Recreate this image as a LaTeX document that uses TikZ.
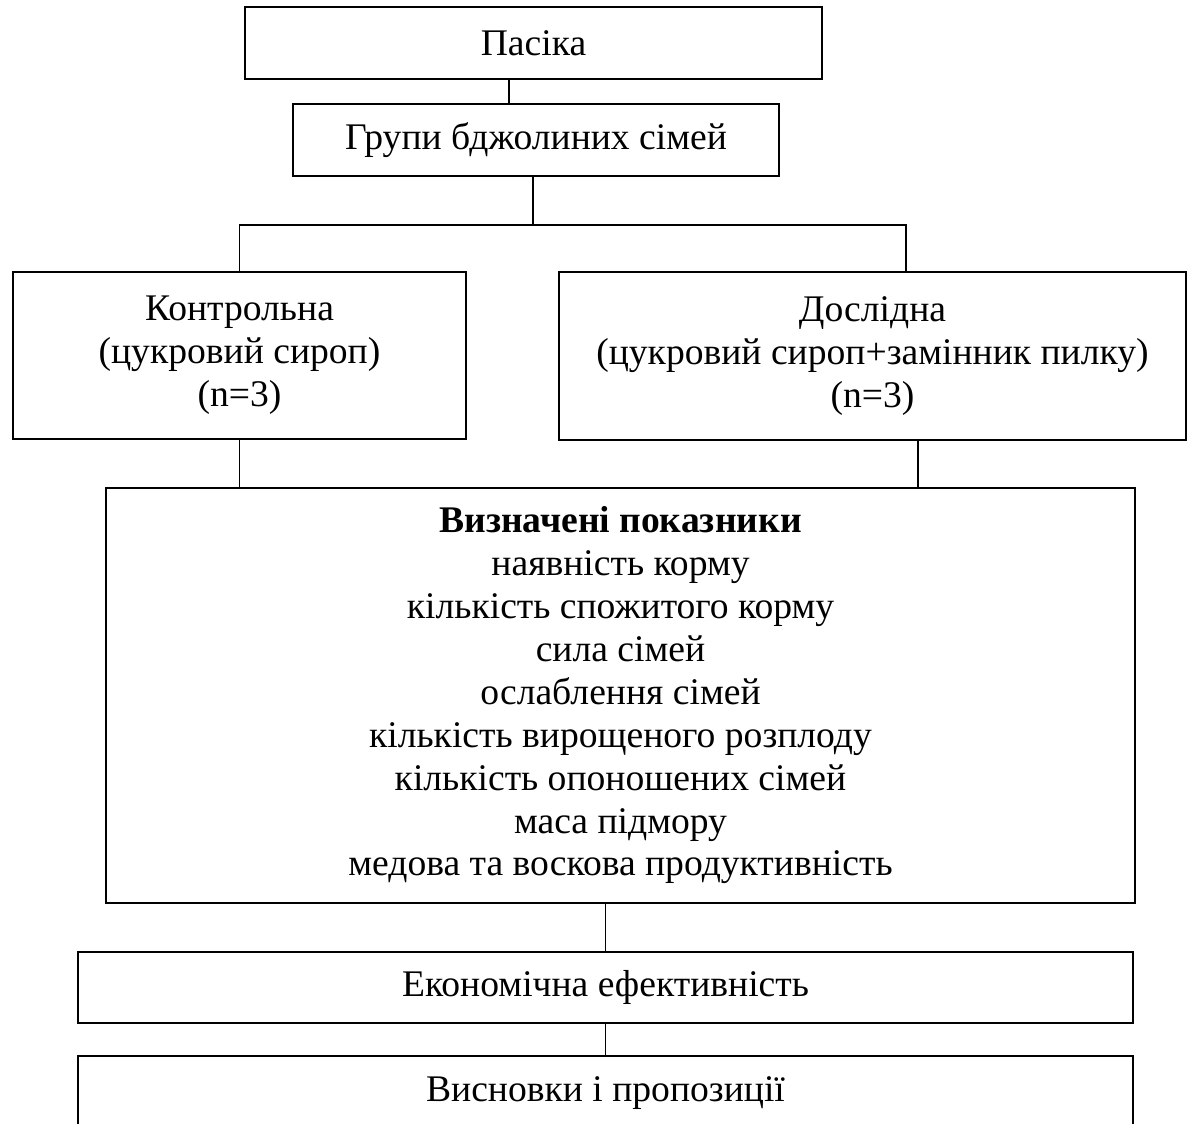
\documentclass[tikz,border=0pt]{standalone}
\usepackage{fontspec}
\setmainfont{Liberation Serif}
\usetikzlibrary{positioning}

\begin{document}
\begin{tikzpicture}[
        every node/.style={font=\fontsize{10.7}{12.2}\selectfont},
        box/.style={
                draw,
                line width=0.6pt,
                align=center,
                inner sep=0pt
        },
        link/.style={line width=0.5pt}
    ]

    \useasboundingbox (0,0) rectangle (11.92,-11.24);

    % Top of the scheme
    \node[box, minimum width=5.77cm, minimum height=0.72cm] (pasika) at (5.335,-0.43) {Пасіка};
    \node[box, minimum width=4.86cm, minimum height=0.72cm] (grupy) at (5.36,-1.40) {Групи бджолиних сімей};

    % Two groups
    \node[box, minimum width=4.53cm, minimum height=1.67cm] (kontrol) at (2.395,-3.555)
        {Контрольна\\(цукровий сироп)\\(n=3)};
    \node[box, minimum width=6.27cm, minimum height=1.68cm] (doslid) at (8.725,-3.56)
        {Дослідна\\(цукровий сироп+замінник пилку)\\(n=3)};

    % Indicators
    \node[box, minimum width=10.29cm, minimum height=4.15cm] (pokaz) at (6.205,-6.955)
        {\textbf{Визначені показники}\\
        наявність корму\\
        кількість спожитого корму\\
        сила сімей\\
        ослаблення сімей\\
        кількість вирощеного розплоду\\
        кількість опоношених сімей\\
        маса підмору\\
        медова та воскова продуктивність};

    % Bottom boxes
    \node[box, minimum width=10.55cm, minimum height=0.71cm] (ekonom) at (6.055,-9.875) {Економічна ефективність};
    \node[box, minimum width=10.55cm, minimum height=0.74cm] (vysnov) at (6.055,-10.93) {Висновки і пропозиції};

    % Connectors
    \draw[link] ([xshift=-0.245cm]pasika.south) -- ([xshift=-0.245cm]pasika.south |- grupy.north);
    \draw[link] ([xshift=-0.03cm]grupy.south) -- ++(0,-0.48) coordinate (split);
    \draw[link] (kontrol.north) |- (split) -| ([xshift=0.335cm]doslid.north);

    \draw[link] (kontrol.south) -- (kontrol.south |- pokaz.north);
    \draw[link] ([xshift=0.455cm]doslid.south) -- ([xshift=0.455cm]doslid.south |- pokaz.north);

    \draw[link] (ekonom.north) -- (ekonom.north |- pokaz.south);
    \draw[link] (ekonom.south) -- (vysnov.north);

\end{tikzpicture}
\end{document}
